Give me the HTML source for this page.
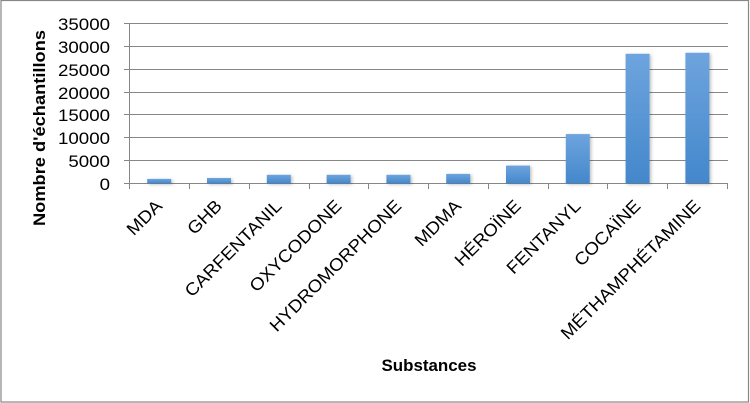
<!DOCTYPE html>
<html>
<head>
<meta charset="utf-8">
<style>
  html, body { margin: 0; padding: 0; background: #ffffff; }
  svg { display: block; }
  text { font-family: "Liberation Sans", Arial, sans-serif; fill: #000; }
</style>
</head>
<body>
<svg width="750" height="403" viewBox="0 0 750 403" xmlns="http://www.w3.org/2000/svg">
  <defs>
    <linearGradient id="bg" x1="0" y1="0" x2="0" y2="1">
      <stop offset="0" stop-color="#6ea4de"/>
      <stop offset="1" stop-color="#4387cb"/>
    </linearGradient>
    <filter id="sh" x="-30%" y="-10%" width="160%" height="130%">
      <feDropShadow dx="1.5" dy="1" stdDeviation="1.5" flood-color="#000" flood-opacity="0.25"/>
    </filter>
  </defs>

  <rect x="0" y="0" width="750" height="403" fill="#fff"/>
  <rect x="1" y="0.5" width="747.5" height="401.5" fill="none" stroke="#878787" stroke-width="1.2"/>

  <!-- gridlines -->
  <g stroke="#878787" stroke-width="1">
    <line x1="124" y1="23.5" x2="728" y2="23.5"/>
    <line x1="124" y1="46.5" x2="728" y2="46.5"/>
    <line x1="124" y1="69.5" x2="728" y2="69.5"/>
    <line x1="124" y1="92.5" x2="728" y2="92.5"/>
    <line x1="124" y1="114.5" x2="728" y2="114.5"/>
    <line x1="124" y1="137.5" x2="728" y2="137.5"/>
    <line x1="124" y1="160.5" x2="728" y2="160.5"/>
    <line x1="124" y1="183.5" x2="728" y2="183.5"/>
    <!-- y axis -->
    <line x1="129.5" y1="23" x2="129.5" y2="189"/>
    <!-- x ticks -->
    <line x1="189.5" y1="183" x2="189.5" y2="189"/>
    <line x1="249.5" y1="183" x2="249.5" y2="189"/>
    <line x1="309.5" y1="183" x2="309.5" y2="189"/>
    <line x1="368.5" y1="183" x2="368.5" y2="189"/>
    <line x1="428.5" y1="183" x2="428.5" y2="189"/>
    <line x1="488.5" y1="183" x2="488.5" y2="189"/>
    <line x1="548.5" y1="183" x2="548.5" y2="189"/>
    <line x1="607.5" y1="183" x2="607.5" y2="189"/>
    <line x1="667.5" y1="183" x2="667.5" y2="189"/>
    <line x1="727.5" y1="183" x2="727.5" y2="189"/>
  </g>

  <!-- bars -->
  <g fill="url(#bg)" filter="url(#sh)">
    <rect x="147.2" y="178.9" width="24" height="4.6"/>
    <rect x="207.0" y="178.0" width="24" height="5.5"/>
    <rect x="266.8" y="174.8" width="24" height="8.7"/>
    <rect x="326.6" y="174.8" width="24" height="8.7"/>
    <rect x="386.4" y="174.8" width="24" height="8.7"/>
    <rect x="446.2" y="173.9" width="24" height="9.6"/>
    <rect x="506.0" y="165.6" width="24" height="17.9"/>
    <rect x="565.8" y="134.1" width="24" height="49.4"/>
    <rect x="625.6" y="53.8" width="24" height="129.7"/>
    <rect x="685.4" y="52.8" width="24" height="130.7"/>
  </g>

  <!-- y tick labels -->
  <g font-size="16.5" text-anchor="end">
    <text x="110" y="30" textLength="52" lengthAdjust="spacingAndGlyphs">35000</text>
    <text x="110" y="53" textLength="52" lengthAdjust="spacingAndGlyphs">30000</text>
    <text x="110" y="76" textLength="52" lengthAdjust="spacingAndGlyphs">25000</text>
    <text x="110" y="99" textLength="52" lengthAdjust="spacingAndGlyphs">20000</text>
    <text x="110" y="121" textLength="52" lengthAdjust="spacingAndGlyphs">15000</text>
    <text x="110" y="144" textLength="52" lengthAdjust="spacingAndGlyphs">10000</text>
    <text x="110" y="167" textLength="41.6" lengthAdjust="spacingAndGlyphs">5000</text>
    <text x="110" y="190" textLength="10.4" lengthAdjust="spacingAndGlyphs">0</text>
  </g>

  <!-- y axis title -->
  <text transform="translate(45,128) rotate(-90)" font-size="17" font-weight="bold" text-anchor="middle" textLength="196" lengthAdjust="spacingAndGlyphs">Nombre d'échantillons</text>

  <!-- x labels -->
  <g font-size="17.5" text-anchor="end">
    <text transform="translate(163.2,207) rotate(-45) scale(1.07,1)">MDA</text>
    <text transform="translate(223.0,207) rotate(-45) scale(1.07,1)">GHB</text>
    <text transform="translate(282.8,207) rotate(-45) scale(1.07,1)">CARFENTANIL</text>
    <text transform="translate(342.6,207) rotate(-45) scale(1.07,1)">OXYCODONE</text>
    <text transform="translate(402.4,207) rotate(-45) scale(1.07,1)">HYDROMORPHONE</text>
    <text transform="translate(462.2,207) rotate(-45) scale(1.07,1)">MDMA</text>
    <text transform="translate(522.0,207) rotate(-45) scale(1.07,1)">HÉROÏNE</text>
    <text transform="translate(581.8,207) rotate(-45) scale(1.07,1)">FENTANYL</text>
    <text transform="translate(641.6,207) rotate(-45) scale(1.07,1)">COCAÏNE</text>
    <text transform="translate(701.4,207) rotate(-45) scale(1.07,1)">MÉTHAMPHÉTAMINE</text>
  </g>

  <!-- x axis title -->
  <text x="429" y="371" font-size="17" font-weight="bold" text-anchor="middle" textLength="95" lengthAdjust="spacingAndGlyphs">Substances</text>
</svg>
</body>
</html>
